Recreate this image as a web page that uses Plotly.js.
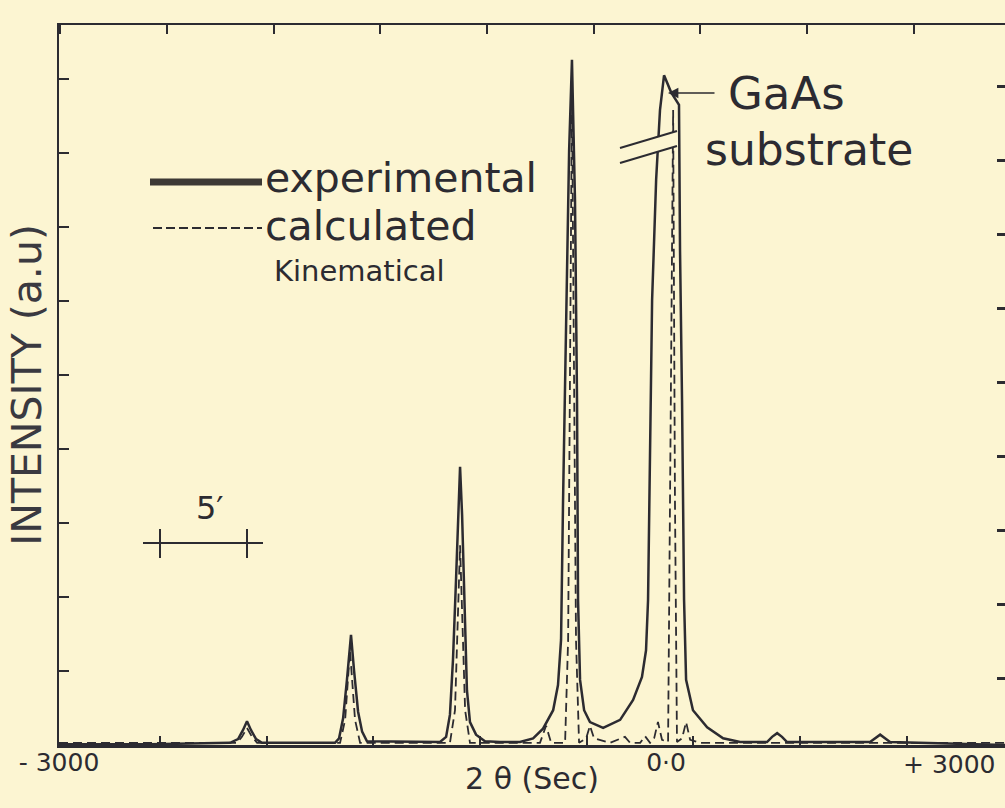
<!DOCTYPE html>
<html>
<head>
<meta charset="utf-8">
<script src="https://cdn.plot.ly/plotly-3.0.1.min.js"></script>
<style>
  html, body { margin: 0; padding: 0; background: #fcf5d2; }
  #chart { width: 1005px; height: 808px; }
</style>
</head>
<body>
<div id="chart"></div>
<script>
// ---- Data (2θ in seconds, intensity in arbitrary units) ----
var expTheta = [-3000,-2550,-2155,-2115,-2091,-2071,-2051,-2026,-1997,
  -1636,-1616,-1596,-1577,-1557,-1542,-1522,-1502,-1478,
  -1117,-1087,-1068,-1053,-1038,-1028,-1018,-1008,-993,-984,-969,-939,-895,
  -820,-722,-657,-608,-558,-534,-519,-509,-494,-479,-465,-450,-440,-435,-425,-405,-376,
  -311,-227,-163,-119,-99,-89,-79,-69,-49,-30,-10,25,64,69,79,89,99,133,203,282,366,
  499,524,549,573,598,1008,1033,1058,1082,1107,1675];
var expIntensity = [0.01,0.01,0.03,0.08,0.20,0.32,0.20,0.08,0.03,
  0.03,0.09,0.36,0.88,1.49,1.01,0.45,0.18,0.05,
  0.04,0.11,0.41,1.15,2.23,3.04,3.76,3.11,1.82,0.74,0.31,0.14,0.05,
  0.04,0.04,0.09,0.22,0.47,0.81,1.42,3.31,6.01,8.04,9.26,7.36,4.66,1.96,0.88,0.47,0.31,
  0.23,0.34,0.61,0.92,1.28,1.96,3.99,6.01,7.64,8.58,9.05,8.82,8.65,6.69,4.66,1.96,0.88,0.47,0.24,0.09,0.04,
  0.04,0.11,0.16,0.11,0.04,0.04,0.09,0.14,0.09,0.04,0.0];

var calcTheta = [-3000,-2120,-2096,-2071,-2046,-2021,
  -1611,-1586,-1562,-1537,-1512,
  -1068,-1043,-1018,-993,-969,
  -623,-593,-568,-499,-484,-465,-445,-430,-395,-376,-356,
  -277,-203,-178,-128,-104,-79,-59,-40,-20,
  10,20,35,44,54,79,99,119,168,1675];
var calcIntensity = [0.03,0.03,0.11,0.23,0.11,0.03,
  0.03,0.34,1.28,0.34,0.03,
  0.03,0.47,2.70,0.47,0.03,
  0.03,0.26,0.03,0.03,1.42,8.78,1.42,0.03,0.09,0.26,0.09,
  0.03,0.11,0.03,0.03,0.12,0.03,0.09,0.31,0.07,
  0.04,3.31,8.58,3.31,0.04,0.09,0.31,0.07,0.03,0.03];

var xTickVals = [-3000, 0];
var xTickText = ['- 3000', '0\u00b70'];
var seriesNames = ['experimental', 'calculated'];

// ---- Layout helpers (pixel -> paper) ----
var L = 59, R = 1005, T = 25, B = 745;
function X(px) { return (px - L) / (R - L); }
function Y(py) { return (B - py) / (B - T); }

var ink = '#2c2b31';
var paperCol = '#fcf5d2';
var font = 'DejaVu Sans, sans-serif';
var xRange = [-3000, 1675];
var yRange = [0, 9.73];

var traces = [
  { x: expTheta, y: expIntensity, name: seriesNames[0], type: 'scatter', mode: 'lines',
    line: { color: ink, width: 2.5 }, xaxis: 'x', yaxis: 'y', showlegend: false },
  { x: calcTheta, y: calcIntensity, name: seriesNames[1], type: 'scatter', mode: 'lines',
    line: { color: ink, width: 1.8, dash: '9px,5px' }, xaxis: 'x2', yaxis: 'y', showlegend: false },
  { x: [], y: [], xaxis: 'x3', yaxis: 'y2', showlegend: false, hoverinfo: 'skip' }
];

var layout = {
  width: 1005, height: 808,
  margin: { l: L, r: 0, t: T, b: 808 - B },
  paper_bgcolor: paperCol, plot_bgcolor: paperCol,
  showlegend: false, hovermode: false,
  font: { family: font, color: ink },
  xaxis: {
    range: xRange, showgrid: false, zeroline: false,
    showline: true, linecolor: ink, linewidth: 2.5,
    ticks: 'inside', tick0: -2500, dtick: 527, ticklen: 9, tickwidth: 2, tickcolor: ink,
    showticklabels: false,
    title: { text: '2 \u03b8 (Sec)', font: { size: 30, family: font, color: ink }, standoff: 22 }
  },
  xaxis2: {
    range: xRange, overlaying: 'x', side: 'bottom', showgrid: false, zeroline: false,
    showline: false, ticks: '', tickvals: xTickVals, ticktext: xTickText,
    tickfont: { size: 25, family: font, color: ink }
  },
  xaxis3: {
    range: xRange, overlaying: 'x', side: 'top', anchor: 'y2', showgrid: false, zeroline: false,
    showline: true, linecolor: ink, linewidth: 2.5,
    ticks: 'inside', tick0: -2466, dtick: 527, ticklen: 9, tickwidth: 2, tickcolor: ink,
    showticklabels: false
  },
  yaxis: {
    range: yRange, showgrid: false, zeroline: false,
    showline: true, linecolor: ink, linewidth: 2.5,
    ticks: 'inside', tick0: 0, dtick: 1, ticklen: 10, tickwidth: 2.5, tickcolor: ink,
    showticklabels: false,
    title: { text: 'INTENSITY (a.u)', font: { size: 41, family: font, color: '#3a3940' }, standoff: 2 }
  },
  yaxis2: {
    range: yRange, overlaying: 'y', side: 'right', anchor: 'x3', showgrid: false, zeroline: false,
    showline: false, ticks: 'inside', tick0: 0.9, dtick: 1, ticklen: 8, tickwidth: 2.5, tickcolor: ink,
    showticklabels: false
  },
  shapes: [
    // legend samples
    { type: 'line', xref: 'paper', yref: 'paper', x0: X(150), x1: X(262), y0: Y(182), y1: Y(182),
      line: { color: '#3d3935', width: 7 } },
    { type: 'line', xref: 'paper', yref: 'paper', x0: X(153), x1: X(262), y0: Y(228), y1: Y(228),
      line: { color: ink, width: 2, dash: '9px,4px' } },
    // 5' scale bar
    { type: 'line', xref: 'paper', yref: 'paper', x0: X(143), x1: X(263), y0: Y(543), y1: Y(543),
      line: { color: ink, width: 2 } },
    { type: 'line', xref: 'paper', yref: 'paper', x0: X(160), x1: X(160), y0: Y(529), y1: Y(558),
      line: { color: ink, width: 2 } },
    { type: 'line', xref: 'paper', yref: 'paper', x0: X(247), x1: X(247), y0: Y(529), y1: Y(558),
      line: { color: ink, width: 2 } },
    // axis break symbol over the substrate peak
    { type: 'path', xref: 'paper', yref: 'paper', layer: 'above',
      path: 'M ' + X(620) + ' ' + Y(148) + ' L ' + X(677) + ' ' + Y(131) + ' L ' + X(677) + ' ' + Y(146) +
            ' L ' + X(620) + ' ' + Y(163) + ' Z',
      fillcolor: paperCol, line: { width: 0 } },
    { type: 'line', xref: 'paper', yref: 'paper', x0: X(620), x1: X(677), y0: Y(148), y1: Y(131),
      line: { color: ink, width: 2 } },
    { type: 'line', xref: 'paper', yref: 'paper', x0: X(620), x1: X(677), y0: Y(163), y1: Y(146),
      line: { color: ink, width: 2 } }
  ],
  annotations: [
    { xref: 'paper', yref: 'paper', x: X(263), y: Y(178), xanchor: 'left', yanchor: 'middle',
      text: 'experimental', showarrow: false, font: { size: 41, family: font, color: ink } },
    { xref: 'paper', yref: 'paper', x: X(263), y: Y(226), xanchor: 'left', yanchor: 'middle',
      text: 'calculated', showarrow: false, font: { size: 41, family: font, color: ink } },
    { xref: 'paper', yref: 'paper', x: X(272), y: Y(271), xanchor: 'left', yanchor: 'middle',
      text: 'Kinematical', showarrow: false, font: { size: 29, family: font, color: ink } },
    { xref: 'paper', yref: 'paper', x: X(726), y: Y(93), xanchor: 'left', yanchor: 'middle',
      text: 'GaAs', showarrow: false, font: { size: 45, family: font, color: ink } },
    { xref: 'paper', yref: 'paper', x: X(703), y: Y(149), xanchor: 'left', yanchor: 'middle',
      text: 'substrate', showarrow: false, font: { size: 44, family: font, color: ink } },
    { xref: 'paper', yref: 'paper', x: X(668), y: Y(93), text: '', showarrow: true,
      ax: 48, ay: 0, arrowhead: 2, arrowsize: 1.3, arrowwidth: 1.6, arrowcolor: ink },
    { xref: 'paper', yref: 'paper', x: X(210), y: Y(508), xanchor: 'center', yanchor: 'middle',
      text: '5\u2032', showarrow: false, font: { size: 32, family: font, color: ink } },
    { xref: 'paper', yref: 'paper', x: X(949), y: Y(765), xanchor: 'center', yanchor: 'middle',
      text: '+ 3000', showarrow: false, font: { size: 25, family: font, color: ink } }
  ]
};

Plotly.newPlot('chart', traces, layout, { displayModeBar: false, staticPlot: true });
</script>
</body>
</html>
